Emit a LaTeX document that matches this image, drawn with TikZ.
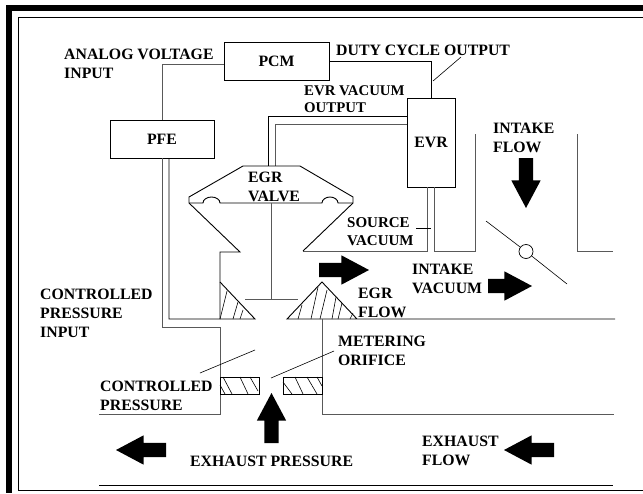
\documentclass[tikz,border=0pt]{standalone}
\usepackage{fontspec}
\setmainfont{Liberation Serif}
\usetikzlibrary{positioning,shapes.arrows}

\begin{document}
\begin{tikzpicture}[
    x=1pt,y=-1pt,
    wall/.style={draw=black,line width=0.9pt},
    pipe/.style={draw=black!65,line width=1pt},
    thinline/.style={draw=black,line width=0.6pt},
    hatch/.style={draw=black,line width=0.6pt},
    unitbox/.style={draw=black,line width=0.8pt,inner sep=0pt,outer sep=0pt,font=\fontsize{15.8}{19}\selectfont\bfseries},
    tag/.style={anchor=west,align=left,inner sep=0pt,font=\fontsize{15.8}{19}\selectfont\bfseries},
    flowarrow/.style={single arrow,fill=black,draw=none,inner sep=0pt,outer sep=0pt,anchor=tail,
      minimum width=29pt,single arrow head extend=7.5pt,single arrow tip angle=56,
      execute at begin node={\rule{0pt}{14pt}}}
  ]
    \useasboundingbox (0,0) rectangle (643,493);
    % frame
    \fill[black] (6,5) rectangle (643,11);
    \fill[black] (6,5) rectangle (12,493);
    \draw[thinline,line width=0.9pt] (643,17) -- (18,17) -- (18,490) -- (643,490);

    % control units
    \node[unitbox,minimum width=105pt,minimum height=38pt] (pcm) at (276.5,61) {PCM};
    \node[unitbox,minimum width=104pt,minimum height=38pt] (pfe) at (162,139) {PFE};
    \node[unitbox,minimum width=48pt,minimum height=89pt] (evr) at (431,142.5) {EVR};
    \draw[pipe] ([yshift=-3pt]pcm.west) -| (pfe.north);
    \draw[wall] (pcm.east) -| (evr.north);

    % vacuum lines
    \coordinate (valvetopa) at (268,166);
    \coordinate (valvetopb) at (275,166);
    \draw[wall] (evr.west |- 0,116) -| (valvetopa);
    \draw[pipe] (evr.west |- 0,124) -| (valvetopb);
    \coordinate (sourcea) at (303,251);
    \coordinate (intakea) at (475,134);
    \draw[pipe] ([xshift=-4pt]evr.south) |- (sourcea);
    \draw[pipe] ([xshift=3pt]evr.south) |- (intakea |- 0,251) -- (intakea);
    \draw[pipe] (577,134) |- (613,251);

    % valve body
    \draw[wall] (303,251) -- (353,203) -- (353,197) -- (300,166) -- (243,166)
      -- (189,197) -- (189,203) -- (240,252) -- (220,252) -- (220,319);
    \draw[wall] (189,203) -- (203,203) arc[start angle=180,end angle=360,x radius=8.5,y radius=6]
      -- (322,203) arc[start angle=180,end angle=360,x radius=8,y radius=6] -- (353,203);
    \draw[pipe] (271,203) -- (271,299);
    \draw[pipe] (245,299) -- (298,299);

    % seats
    \draw[wall] ([xshift=7pt]pfe.south) |- (255,319) -- (220,282);
    \draw[wall] (615,319) -- (287,319) -- (322,282) -- (357,319);
    \foreach \xa/\xb/\yb in {220/227/291,233/238/302,240/243/310,298/302/305,
        311/318/287,320/327/290,332/336/297,338/342/303,350/353/313}
      \draw[hatch] (\xa,319) -- (\xb,\yb);

    % controlled pressure chamber
    \draw[pipe] (pfe.south) |- (220,327) -- (220,414) -- (99,414);
    \draw[pipe] (322,319) -- (322,414) -- (614,414);
    \draw[wall] (99,485) -- (613,485);

    % orifice plates
    \draw[hatch,line width=0.8pt] (220,377) rectangle (259,394);
    \draw[hatch,line width=0.8pt] (283,377) rectangle (322,394);
    \foreach \xa/\ya/\xb/\yb in {220/385/225/394,223/377/232/394,240/377/248/394,250/377/258/391,
        283/382/292/394,295/377/303/394,307/377/317/394,317/377/322/386}
      \draw[hatch] (\xa,\ya) -- (\xb,\yb);

    % throttle plate
    \node[circle,draw=black,line width=0.7pt,minimum size=14pt,inner sep=0pt] (plate) at (526,251.5) {};
    \coordinate (platea) at (486,221);
    \coordinate (plateb) at (567,284);
    \draw[thinline] (platea) -- (plate);
    \draw[thinline] (plate) -- (plateb);

    % flow arrows
    \node[flowarrow,minimum height=50pt,rotate=-90] (intakearrow) at (526,158) {};
    \node[flowarrow,minimum height=50pt] (egrarrow) at (319,270) {};
    \node[flowarrow,minimum height=44pt] (vacuumarrow) at (488,286) {};
    \node[flowarrow,minimum height=50pt,rotate=90] (pressurearrow) at (271.5,443) {};
    \node[flowarrow,minimum height=50pt,rotate=180] (outarrow) at (166,450) {};
    \node[flowarrow,minimum height=50pt,rotate=180] (exhaustarrow) at (554,450) {};

    % labels
    \node[tag] (analoglabel) at (64,63.5) {ANALOG VOLTAGE\\INPUT};
    \node[tag] (dutylabel) at (336,50) {DUTY CYCLE OUTPUT};
    \node[tag,font=\fontsize{14.8}{17}\selectfont\bfseries] (vacuumlabel) at (304,99.5) {EVR VACUUM\\OUTPUT};
    \node[tag] (valvelabel) at (248,187) {EGR\\VALVE};
    \node[tag] (intakelabel) at (493,137.5) {INTAKE\\FLOW};
    \node[tag,font=\fontsize{15}{18}\selectfont\bfseries] (sourcelabel) at (347,232) {SOURCE\\VACUUM};
    \node[tag] (intakevaclabel) at (412,278.5) {INTAKE\\VACUUM};
    \node[tag] (egrlabel) at (358,303) {EGR\\FLOW};
    \node[tag] (inputlabel) at (40,313) {CONTROLLED\\PRESSURE\\INPUT};
    \node[tag] (meterlabel) at (338,350.5) {METERING\\ORIFICE};
    \node[tag] (ctrllabel) at (100,395.5) {CONTROLLED\\PRESSURE};
    \node[tag] (exhaustlabel) at (190,461) {EXHAUST PRESSURE};
    \node[tag] (flowlabel) at (422,451) {EXHAUST\\FLOW};

    % leaders
    \coordinate (dutyend) at (433,81);
    \coordinate (sourceend) at (431,228);
    \coordinate (ctrlend) at (255,350);
    \coordinate (meterend) at (271,378);
    \draw[thinline] (461,57) -- (dutyend);
    \draw[thinline] (416,228) -- (sourceend);
    \draw[thinline] (ctrlend) -- (200,373);
    \draw[thinline] (meterend) -- (334,351);
  \end{tikzpicture}
\end{document}
